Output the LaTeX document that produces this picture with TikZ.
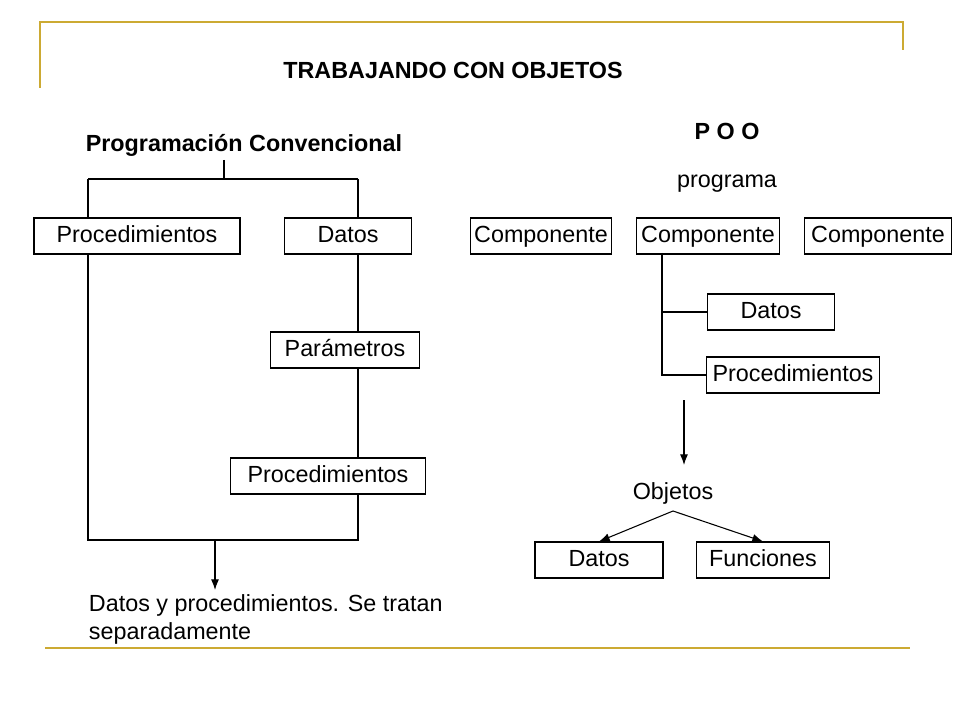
\documentclass[tikz,border=0pt]{standalone}
\usepackage{fontspec}
\setmainfont{Liberation Sans}
\usetikzlibrary{positioning,arrows.meta}
\definecolor{gold}{RGB}{204,170,51}
\begin{document}
\begin{tikzpicture}[x=0.75pt,y=-0.75pt,
  box/.style={draw, minimum height=27pt, text depth=3pt, inner xsep=2pt, font=\fontsize{17.5}{21}\selectfont},
  txt/.style={font=\fontsize{17.5}{21}\selectfont},
  bold/.style={font=\fontsize{17.5}{21}\selectfont\bfseries},
  >={Latex[length=8pt,width=6pt]}, line width=0.8pt]
\useasboundingbox (0,0) rectangle (960,720);
% decoration
\draw[gold, line width=1.5pt] (40,88)--(40,22)--(903,22)--(903,50);
\draw[gold, line width=1.5pt] (45,648)--(910,648);
% titles
\node[bold] (title) at (453,70) {TRABAJANDO CON OBJETOS};
\node[bold] (conv) at (244,145) {Programación Convencional};
\node[bold] (poo) at (727,131) {P O O};
\node[txt] (prog) at (727,184) {programa};
% left side
\node[box, minimum width=154.5pt] (proc1) at (137,236) {Procedimientos};
\node[box, minimum width=95pt] (dat1) at (348,236) {Datos};
\node[box, minimum width=112pt] (par) at (345,350) {Parámetros};
\node[box, minimum width=146pt] (proc2) at (328,476) {Procedimientos};
\coordinate (top) at (224,160);
\coordinate (tl) at (88,179);
\coordinate (tr) at (358,179);
\draw (top)--(224,179) (tl)--(tr);
\draw (tl)--(proc1.north -| tl) (tr)--(dat1.north -| tr);
\draw (dat1.south -| tr)--(par.north -| tr) (par.south -| tr)--(proc2.north -| tr);
\draw (proc1.south -| tl)--(88,540)--(358,540)--(proc2.south -| tr);
\coordinate (a1) at (215,540);
\coordinate (a2) at (215,590);
\draw[->] (a1)--(a2);
\node[txt, anchor=north west, align=left] (res) at (84,590) {Datos y procedimientos. Se tratan\\separadamente};
% right side
\node[box, minimum width=106pt] (c1) at (541,236) {Componente};
\node[box, minimum width=107pt] (c2) at (708,236) {Componente};
\node[box, minimum width=110pt] (c3) at (878,236) {Componente};
\node[box, minimum width=95pt] (dat2) at (771,312) {Datos};
\node[box, minimum width=130pt] (proc3) at (793,375) {Procedimientos};
\coordinate (v) at (662,253);
\draw (v)--(662,375)--(proc3.west);
\draw (662,312)--(dat2.west);
\coordinate (b1) at (684,400);
\coordinate (b2) at (684,465);
\draw[->] (b1)--(b2);
\node[txt] (obj) at (673,493) {Objetos};
\node[box, minimum width=96pt] (dat3) at (599,560) {Datos};
\node[box, minimum width=100pt] (fun) at (763,560) {Funciones};
\coordinate (o) at (673,511);
\draw[->] (o)--(dat3.north);
\draw[->] (o)--(fun.north);
\end{tikzpicture}
\end{document}
